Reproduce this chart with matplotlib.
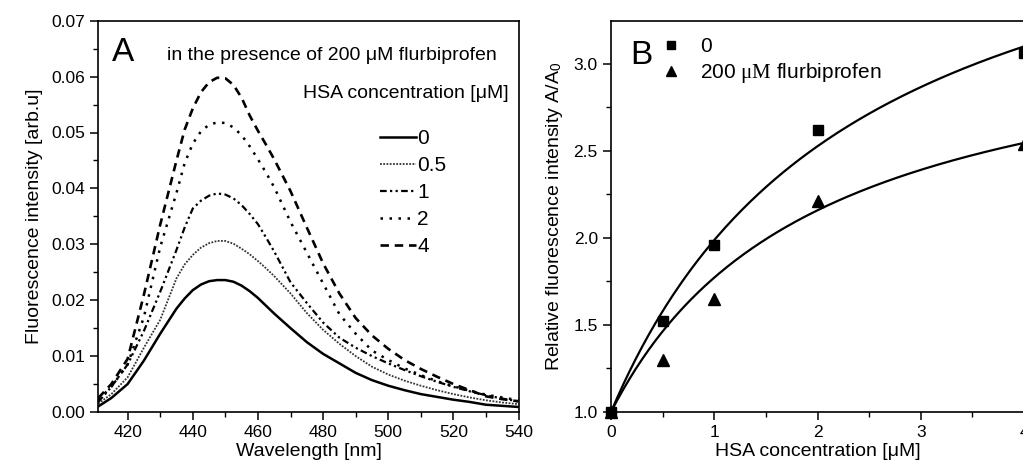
import numpy as np
import matplotlib
matplotlib.use('Agg')
import matplotlib.pyplot as plt
from matplotlib.ticker import MultipleLocator, FormatStrFormatter

plt.rcParams['font.family'] = ['Liberation Sans', 'DejaVu Sans']
plt.rcParams['mathtext.fontset'] = 'custom'
plt.rcParams['mathtext.rm'] = 'Liberation Serif'
plt.rcParams['mathtext.sf'] = 'Liberation Sans'
plt.rcParams['mathtext.it'] = 'Liberation Serif:italic'

# panel A - emission spectra
wavelength = [411, 415, 420, 425, 430, 435, 437.5, 440, 442.5, 445, 447.5, 450, 452.5,
              455, 457.5, 460, 462.5, 465, 470, 475, 480, 485, 490, 495, 500, 505, 510,
              515, 520, 525, 530, 535, 540]
hsa_0 = [0.0010, 0.0025, 0.0050, 0.0092, 0.0140, 0.0185,
         0.0203, 0.0218, 0.0228, 0.0234, 0.0236, 0.0236, 0.0233, 0.0226, 0.0216, 0.0204, 0.0190,
         0.0176, 0.0150, 0.0125, 0.0104, 0.0087, 0.0070, 0.0057, 0.0047, 0.0039, 0.0032,
         0.0027, 0.0022, 0.0018, 0.0013, 0.0011, 0.0009]
hsa_05 = [0.0015, 0.0032, 0.0062, 0.0115, 0.0165, 0.0239,
          0.0264, 0.0281, 0.0294, 0.0302, 0.0306, 0.0306, 0.0301, 0.0292, 0.0282, 0.0270, 0.0257,
          0.0243, 0.0212, 0.0177, 0.0147, 0.0122, 0.0100, 0.0081, 0.0067, 0.0056, 0.0047,
          0.0039, 0.0032, 0.0026, 0.0021, 0.0017, 0.0014]
hsa_1 = [0.0018, 0.0045, 0.0085, 0.0145, 0.0215, 0.0290,
         0.0330, 0.0364, 0.0378, 0.0387, 0.0391, 0.0389, 0.0382, 0.0370, 0.0354, 0.0336, 0.0312,
         0.0287, 0.0232, 0.0195, 0.0160, 0.0133, 0.0115, 0.0100, 0.0087, 0.0075, 0.0064,
         0.0054, 0.0045, 0.0037, 0.0030, 0.0024, 0.0019]
hsa_2 = [0.0022, 0.0045, 0.0085, 0.0170, 0.0295, 0.0392,
         0.0445, 0.0480, 0.0502, 0.0514, 0.0518, 0.0517, 0.0509, 0.0495, 0.0475, 0.0452, 0.0428,
         0.0402, 0.0340, 0.0285, 0.0230, 0.0175, 0.0140, 0.0110, 0.0093, 0.0078, 0.0066,
         0.0055, 0.0046, 0.0038, 0.0031, 0.0026, 0.0021]
hsa_4 = [0.0025, 0.0050, 0.0095, 0.0210, 0.0335, 0.0450,
         0.0505, 0.0543, 0.0572, 0.0590, 0.0598, 0.0597, 0.0585, 0.0562, 0.0530, 0.0503, 0.0478,
         0.0452, 0.0395, 0.0330, 0.0266, 0.0212, 0.0168, 0.0137, 0.0113, 0.0093, 0.0077,
         0.0063, 0.0050, 0.0039, 0.0028, 0.0023, 0.0019]
spectra_labels = ['0', '0.5', '1', '2', '4']

# panel B - relative intensity vs HSA concentration
conc = [0, 0.5, 1, 2, 4]
ratio_plain = [1.0, 1.52, 1.96, 2.62, 3.06]
ratio_flurbi = [1.0, 1.30, 1.65, 2.21, 2.54]


def fit_binding(x, y, wpow=0):
    # hyperbolic fit y = 1 + B*x/(K+x); weights x**wpow
    x = np.asarray(x, float)
    dy = np.asarray(y, float) - 1
    w = x ** wpow
    best = None
    for k in np.linspace(0.05, 10, 2000):
        f = x / (k + x)
        b = (w * f * dy).sum() / (w * f * f).sum()
        err = (w * (b * f - dy) ** 2).sum()
        if best is None or err < best[0]:
            best = (err, k, b)
    return best[1], best[2]


W, H = 1023, 468
fig = plt.figure(figsize=(W / 100, H / 100), dpi=100)
axA = fig.add_axes([98.3 / W, 56 / H, 420.3 / W, 391.3 / H])
axB = fig.add_axes([611 / W, 56 / H, 413 / W, 391.3 / H])

styles = [
    dict(ls='-', lw=1.8),
    dict(ls=(0, (1, 0.8)), lw=1.3, color='#333333'),
    dict(ls=(0, (3, 1.5, 1, 1.5, 1, 1.5)), lw=1.6),
    dict(ls=(0, (1, 2.6)), lw=1.8),
    dict(ls=(0, (3.2, 2.2)), lw=1.9),
]
for ys, lab, st in zip([hsa_0, hsa_05, hsa_1, hsa_2, hsa_4], spectra_labels, styles):
    kw = dict(color='black')
    kw.update(st)
    axA.plot(wavelength, ys, label=lab, **kw)

axA.set_xlim(411, 540)
axA.set_ylim(0, 0.07)
axA.xaxis.set_major_locator(MultipleLocator(20))
axA.xaxis.set_minor_locator(MultipleLocator(10))
axA.yaxis.set_major_locator(MultipleLocator(0.01))
axA.yaxis.set_minor_locator(MultipleLocator(0.005))
axA.yaxis.set_major_formatter(FormatStrFormatter('%.2f'))
axA.set_xlabel('Wavelength [nm]', fontsize=14, labelpad=2)
axA.set_ylabel('Fluorescence intensity [arb.u]', fontsize=14, labelpad=6)
axA.text(0.033, 0.92, 'A', transform=axA.transAxes, fontsize=24, va='center')
axA.text(0.163, 0.912, 'in the presence of 200 \u03bcM flurbiprofen',
         transform=axA.transAxes, fontsize=14, va='center')
axA.text(0.487, 0.815, 'HSA concentration [\u03bcM]', transform=axA.transAxes,
         fontsize=14, va='center')
axA.legend(loc='upper left', bbox_to_anchor=(0.67, 0.722), frameon=False,
           fontsize=15, handlelength=1.75, handletextpad=0.05, labelspacing=0.38,
           borderpad=0, borderaxespad=0)

# panel B
xs = np.linspace(0, 4, 200)
for ys, mk, ms, lab, wp in [(ratio_plain, 's', 7, '0', 0),
                            (ratio_flurbi, '^', 8, '200 $\\mathrm{\\mu M}$ flurbiprofen', 2)]:
    k, b = fit_binding(conc, ys, wp)
    axB.plot(xs, 1 + b * xs / (k + xs), color='black', lw=1.6, clip_on=False)
    axB.plot(conc, ys, ls='none', marker=mk, ms=ms, color='black', label=lab,
             clip_on=False, zorder=3)

axB.set_xlim(0, 4)
axB.set_ylim(1.0, 3.247)
axB.xaxis.set_major_locator(MultipleLocator(1))
axB.xaxis.set_minor_locator(MultipleLocator(0.5))
axB.yaxis.set_major_locator(MultipleLocator(0.5))
axB.yaxis.set_minor_locator(MultipleLocator(0.25))
axB.yaxis.set_major_formatter(FormatStrFormatter('%.1f'))
axB.set_xlabel('HSA concentration [\u03bcM]', fontsize=14, labelpad=2)
axB.set_ylabel('Relative fluorescence intensity A/A$_\\mathsf{0}$', fontsize=14, labelpad=6)
axB.text(0.046, 0.912, 'B', transform=axB.transAxes, fontsize=24, va='center')
axB.legend(loc='upper left', bbox_to_anchor=(0.12, 0.958), frameon=False,
           fontsize=15, handlelength=1.0, handletextpad=0.9, labelspacing=0.25,
           borderpad=0, borderaxespad=0, markerscale=0.9)

for ax in (axA, axB):
    for s in ax.spines.values():
        s.set_linewidth(1.2)
    ax.tick_params(which='major', direction='out', length=6, width=1.1, labelsize=12.5)
    ax.tick_params(which='minor', direction='out', length=3.5, width=1.0)

fig.savefig('out.png', dpi=100)
